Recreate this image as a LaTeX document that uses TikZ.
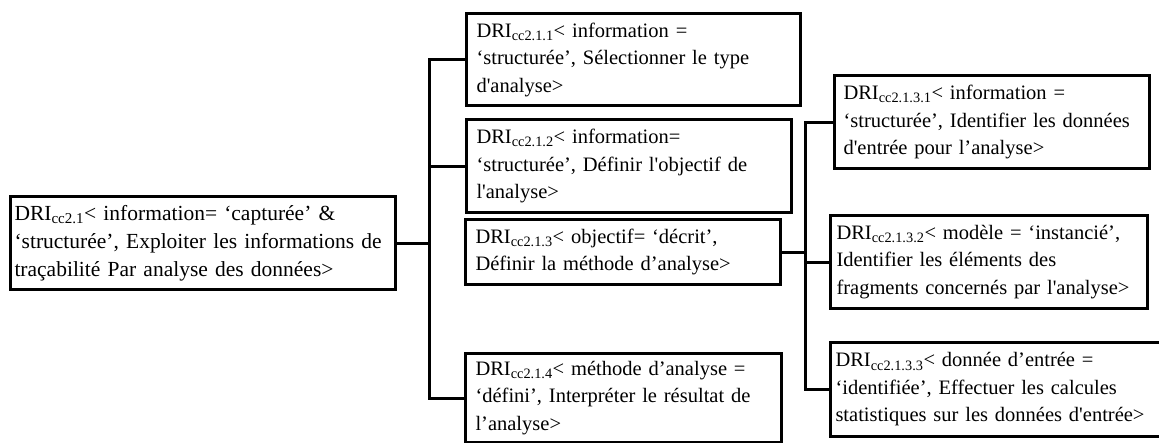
\documentclass[tikz,border=0pt]{standalone}
\usepackage{fontspec}
\setmainfont{Liberation Serif}[Ligatures=TeXOff]
\newcommand\dri[1]{DRI\textsubscript{#1}}
\newcommand\bxline[1]{\mbox{#1}}
\begin{document}
\begin{tikzpicture}[x=1pt,y=-1pt,
  box/.style={draw, line width=3pt, anchor=north west, align=left,
    inner xsep=#1, inner ysep=0pt, font=\fontsize{20.5}{27.5}\selectfont},
  box/.default=10pt,
  wire/.style={line width=3pt}]
\useasboundingbox (0,0) rectangle (1159,442);
\clip (0,0) rectangle (1159,442);
% root
\node[box=4pt, font=\fontsize{21.5}{28}\selectfont, minimum width=385pt, minimum height=93pt, text width=377pt] (root) at (9,195)
  {\bxline{\dri{cc2.1}< information= ‘capturée’ \&}\\\bxline{‘structurée’, Exploiter les informations de}\\\bxline{traçabilité Par analyse des données>}};
% level 1
\node[box, minimum width=334pt, minimum height=92pt, text width=314pt] (b1) at (465,12)
  {\bxline{\dri{cc2.1.1}< information =}\\\bxline{‘structurée’, Sélectionner le type}\\\bxline{d'analyse>}};
\node[box, minimum width=325pt, minimum height=93pt, text width=305pt] (b2) at (465,118)
  {\bxline{\dri{cc2.1.2}< information=}\\\bxline{‘structurée’, Définir l'objectif de}\\\bxline{l'analyse>}};
\node[box, minimum width=315pt, minimum height=65pt, text width=295pt] (b3) at (464,218)
  {\bxline{\dri{cc2.1.3}< objectif= ‘décrit’,}\\\bxline{Définir la méthode d’analyse>}};
\node[box, minimum width=316pt, minimum height=89pt, text width=296pt] (b4) at (464,352)
  {\bxline{\dri{cc2.1.4}< méthode d’analyse =}\\\bxline{‘défini’, Interpréter le résultat de}\\\bxline{l’analyse>}};
% level 2
\node[box=9pt, minimum width=315pt, minimum height=93pt, text width=297pt] (c1) at (833,74)
  {\bxline{\dri{cc2.1.3.1}< information =}\\\bxline{‘structurée’, Identifier les données}\\\bxline{d'entrée pour l’analyse>}};
\node[box=6pt, minimum width=317pt, minimum height=93pt, text width=305pt] (c2) at (829,214)
  {\bxline{\dri{cc2.1.3.2}< modèle = ‘instancié’,}\\\bxline{Identifier les éléments des}\\\bxline{fragments concernés par l'analyse>}};
\node[box=5pt, minimum width=340pt, minimum height=94pt, text width=330pt] (c3) at (829,341)
  {\bxline{\dri{cc2.1.3.3}< donnée d’entrée =}\\\bxline{‘identifiée’, Effectuer les calcules}\\\bxline{statistiques sur les données d'entrée>}};
% trunks
\coordinate (j1) at (429,0);
\coordinate (j2) at (805,0);
\draw[wire] (root.east) -- (root.east -| j1);
\draw[wire] (b1.west) -| (b4.west -| j1) -- (b4.west);
\draw[wire] (b2.west) -- (b2.west -| j1);
\draw[wire] (b3.east) -- (b3.east -| j2);
\draw[wire] (c1.west) -| (c3.west -| j2) -- (c3.west);
\draw[wire] (c2.west) -- (c2.west -| j2);
\end{tikzpicture}
\end{document}
